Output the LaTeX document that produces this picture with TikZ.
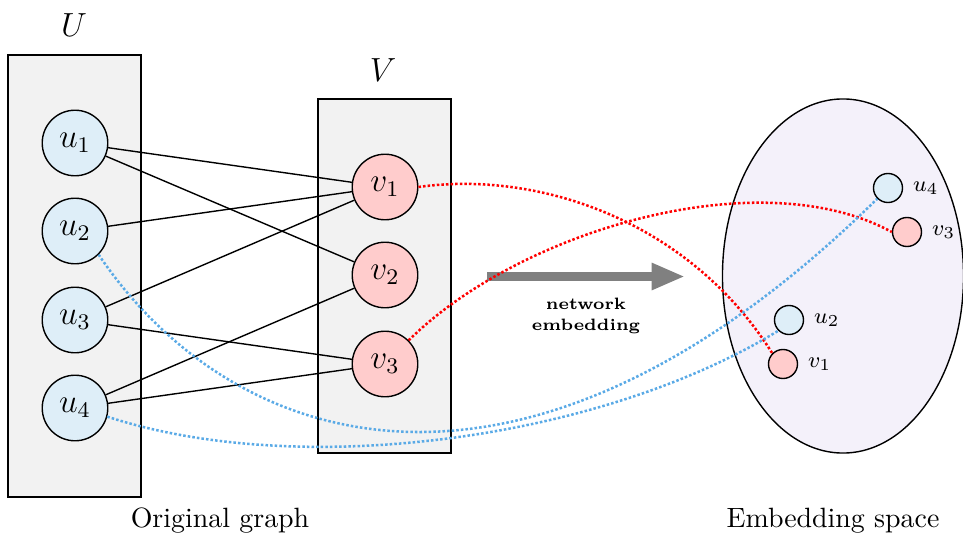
\documentclass[tikz,border=0pt]{standalone}
\usetikzlibrary{arrows.meta,shapes.geometric}
\definecolor{ublue}{RGB}{222,238,248}
\definecolor{vred}{RGB}{255,204,204}
\definecolor{boxgray}{RGB}{242,242,242}
\definecolor{embfill}{RGB}{244,241,250}
\definecolor{dotblue}{RGB}{90,170,230}
\tikzset{
  grpbox/.style={draw, fill=boxgray, line width=0.5pt},
  unode/.style={circle, draw, fill=ublue, minimum size=23.5pt, inner sep=0pt, line width=0.5pt, font=\fontsize{11.5}{13}\selectfont},
  vnode/.style={circle, draw, fill=vred, minimum size=23.5pt, inner sep=0pt, line width=0.5pt, font=\fontsize{11.5}{13}\selectfont},
  sunode/.style={circle, draw, fill=ublue, minimum size=10.4pt, inner sep=0pt, line width=0.5pt, label distance=1pt},
  svnode/.style={circle, draw, fill=vred, minimum size=10.4pt, inner sep=0pt, line width=0.5pt, label distance=1pt},
  edge/.style={line width=0.5pt},
  dotline/.style={line width=0.9pt, dash pattern=on 0.9pt off 0.75pt},
}
\begin{document}
\begin{tikzpicture}[x=0.3584pt, y=-0.3584pt]
\useasboundingbox (0,0) rectangle (963,534);
% boxes
\node[grpbox, minimum width=47.7pt, minimum height=158.4pt, inner sep=0pt] (ubox) at (74.5,276) {};
\node[grpbox, minimum width=47.7pt, minimum height=126.9pt, inner sep=0pt] (vbox) at (384.5,276) {};
\node (ulab) at (74,25) {\large $U$};
\node (vlab) at (383,70) {\large $V$};
% ellipse
\node[ellipse, draw, fill=embfill, line width=0.5pt, minimum width=86.4pt, minimum height=126.9pt, inner sep=0pt] (emb) at (843,276) {};
% u nodes
\node[unode] (u1) at (75,143) {$u_1$};
\node[unode] (u2) at (75,231) {$u_2$};
\node[unode] (u3) at (75,320) {$u_3$};
\node[unode] (u4) at (75,408) {$u_4$};
% v nodes
\node[vnode] (v1) at (385,187) {$v_1$};
\node[vnode] (v2) at (385,275) {$v_2$};
\node[vnode] (v3) at (385,364) {$v_3$};
% edges
\draw[edge] (u1) -- (v1);
\draw[edge] (u1) -- (v2);
\draw[edge] (u2) -- (v1);
\draw[edge] (u3) -- (v1);
\draw[edge] (u3) -- (v3);
\draw[edge] (u4) -- (v2);
\draw[edge] (u4) -- (v3);
% embedding nodes
\node[sunode, label={[font=\footnotesize]right:$u_4$}] (eu4) at (888,188) {};
\node[svnode, label={[font=\footnotesize]right:$v_3$}] (ev3) at (907,232) {};
\node[sunode, label={[font=\footnotesize]right:$u_2$}] (eu2) at (789,320) {};
\node[svnode, label={[font=\footnotesize]right:$v_1$}] (ev1) at (783,364) {};
% arrow
\coordinate (as) at (487,276.5);
\coordinate (ae) at (685,276.5);
\draw[gray, line width=3.2pt, -{Triangle[length=12pt,width=9pt]}] (as) -- (ae);
\node[font=\fontsize{5.9}{7.8}\selectfont\bfseries, align=center] (alab) at (586,316) {network\\embedding};
% dotted links
\draw[dotline, red] (v1.east) .. controls (540,170) and (690,222) .. (ev1.north west);
\draw[dotline, red] (v3.north east) .. controls (520,230) and (760,160) .. (ev3.west);
\draw[dotline, dotblue] (u2.south east) .. controls (230,450) and (520,550) .. (eu4.south west);
\draw[dotline, dotblue] (u4.-15) .. controls (300,480) and (600,440) .. (eu2.south west);
% captions
\node (cap1) at (220,521) {Original graph};
\node (cap2) at (833,521) {Embedding space};
\end{tikzpicture}
\end{document}
